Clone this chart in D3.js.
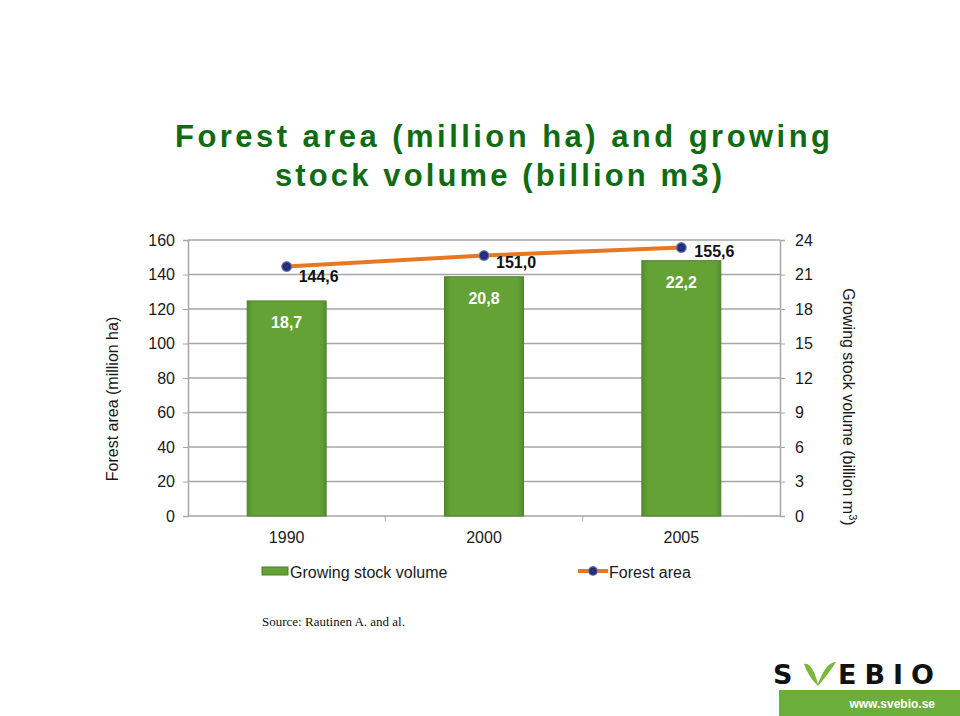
<!DOCTYPE html>
<html>
<head>
<meta charset="utf-8">
<script src="https://cdn.jsdelivr.net/npm/d3@7"></script>
<style>
  body { margin: 0; background: #fff; }
  svg { display: block; font-family: "Liberation Sans", Arial, sans-serif; }
</style>
</head>
<body>
<svg id="chart" width="960" height="716"></svg>
<script>
// chart data
const years = ['1990', '2000', '2005'];
const stockVolume = [18.7, 20.8, 22.2];     // billion m3 (right axis)
const forestArea = [144.6, 151.0, 155.6];   // million ha (left axis)
const leftTicks = [0, 20, 40, 60, 80, 100, 120, 140, 160];
const rightTicks = [0, 3, 6, 9, 12, 15, 18, 21, 24];

const fmt = v => d3.format('.1f')(v).replace('.', ',');

const svg = d3.select('#chart');
const x0 = 188, x1 = 780, yTop = 240, yBot = 516;

const x = d3.scaleBand().domain(years).range([x0, x1])
  .paddingInner(0.6).paddingOuter(0.3);
const yL = d3.scaleLinear().domain([0, 160]).range([yBot, yTop]);
const yR = d3.scaleLinear().domain([0, 24]).range([yBot, yTop]);

const defs = svg.append('defs');
const grad = defs.append('linearGradient').attr('id', 'barGrad')
  .attr('x1', 0).attr('x2', 1).attr('y1', 0).attr('y2', 0);
grad.append('stop').attr('offset', '0%').attr('stop-color', '#548f2c');
grad.append('stop').attr('offset', '8%').attr('stop-color', '#64a236');
grad.append('stop').attr('offset', '92%').attr('stop-color', '#64a236');
grad.append('stop').attr('offset', '100%').attr('stop-color', '#548f2c');
const dotGrad = defs.append('radialGradient').attr('id', 'dotGrad');
dotGrad.append('stop').attr('offset', '0%').attr('stop-color', '#2a3a9a');
dotGrad.append('stop').attr('offset', '60%').attr('stop-color', '#1c2670');
dotGrad.append('stop').attr('offset', '100%').attr('stop-color', '#8a90b8');

// title
const titleLines = [
  { t: 'Forest area (million ha) and growing', x: 175, y: 147, w: 655 },
  { t: 'stock volume (billion m3)', x: 275, y: 186, w: 447 }
];
svg.append('g').selectAll('text').data(titleLines).join('text')
  .attr('x', d => d.x).attr('y', d => d.y)
  .attr('textLength', d => d.w).attr('lengthAdjust', 'spacing')
  .attr('fill', '#106b12').attr('font-weight', 'bold').attr('font-size', 31)
  .text(d => d.t);

// gridlines
svg.append('g').selectAll('line').data(leftTicks.slice(1)).join('line')
  .attr('x1', x0).attr('x2', x1)
  .attr('y1', d => yL(d)).attr('y2', d => yL(d))
  .attr('stroke', '#a6a6a6').attr('stroke-width', 1.5);

// axes
const axL = svg.append('g').attr('transform', `translate(${x0},0)`)
  .call(d3.axisLeft(yL).tickValues(leftTicks).tickSize(5).tickPadding(8));
const axR = svg.append('g').attr('transform', `translate(${x1},0)`)
  .call(d3.axisRight(yR).tickValues(rightTicks).tickSize(5).tickPadding(10));
const axB = svg.append('g').attr('transform', `translate(0,${yBot})`)
  .call(d3.axisBottom(x).tickSize(0).tickPadding(16));
[axL, axR, axB].forEach(g => {
  g.selectAll('path').attr('stroke', '#a6a6a6').attr('stroke-width', 1.5);
  g.selectAll('line').attr('stroke', '#a6a6a6');
  g.selectAll('text').attr('font-size', 16).attr('fill', '#1a1a1a')
    .attr('font-family', '"Liberation Sans", Arial, sans-serif');
});
axB.select('path').attr('d', `M${x0},0H${x1}`);
// category boundary ticks
axB.selectAll('.sep').data(years.slice(1)).join('line')
  .attr('x1', d => x(d) - x.step() * x.paddingInner() / 2)
  .attr('x2', d => x(d) - x.step() * x.paddingInner() / 2)
  .attr('y1', 0).attr('y2', 5).attr('stroke', '#a6a6a6');

// bars
svg.append('g').selectAll('rect').data(stockVolume).join('rect')
  .attr('x', (d, i) => x(years[i]))
  .attr('y', d => yR(d))
  .attr('width', x.bandwidth())
  .attr('height', d => yBot - yR(d))
  .attr('fill', 'url(#barGrad)')
  .attr('stroke', '#4c7f2a').attr('stroke-width', 1);
svg.append('g').selectAll('text').data(stockVolume).join('text')
  .attr('x', (d, i) => x(years[i]) + x.bandwidth() / 2)
  .attr('y', d => yR(d) + 27)
  .attr('text-anchor', 'middle').attr('fill', '#fff')
  .attr('font-weight', 'bold').attr('font-size', 16)
  .text(d => fmt(d));

// line
const cx = (d, i) => x(years[i]) + x.bandwidth() / 2;
svg.append('path').datum(forestArea)
  .attr('d', d3.line().x(cx).y(d => yL(d)))
  .attr('fill', 'none').attr('stroke', '#e8771f').attr('stroke-width', 4);
svg.append('g').selectAll('circle').data(forestArea).join('circle')
  .attr('cx', cx).attr('cy', d => yL(d)).attr('r', 5.5)
  .attr('fill', 'url(#dotGrad)');
const lblOff = [[12, 15], [12, 12], [13, 9]];
svg.append('g').selectAll('text').data(forestArea).join('text')
  .attr('x', (d, i) => cx(d, i) + lblOff[i][0])
  .attr('y', (d, i) => yL(d) + lblOff[i][1])
  .attr('fill', '#111').attr('font-weight', 'bold').attr('font-size', 16)
  .text(d => fmt(d));

// axis titles
svg.append('text').attr('transform', 'translate(118,399) rotate(-90)')
  .attr('text-anchor', 'middle').attr('font-size', 16).attr('fill', '#1a1a1a')
  .text('Forest area (million ha)');
const rt = svg.append('text').attr('transform', 'translate(843,407) rotate(90)')
  .attr('text-anchor', 'middle').attr('font-size', 16).attr('fill', '#1a1a1a');
rt.append('tspan').text('Growing stock volume (billion m');
rt.append('tspan').attr('font-size', 11).attr('dy', -6).text('3');
rt.append('tspan').attr('dy', 6).text(')');

// legend
const lg = svg.append('g');
lg.append('rect').attr('x', 262).attr('y', 567).attr('width', 26).attr('height', 8)
  .attr('fill', '#64a236').attr('stroke', '#4c7f2a');
lg.append('text').attr('x', 290).attr('y', 578).attr('font-size', 16).attr('fill', '#1a1a1a')
  .text('Growing stock volume');
lg.append('line').attr('x1', 578).attr('x2', 608).attr('y1', 571).attr('y2', 571)
  .attr('stroke', '#e8771f').attr('stroke-width', 4);
lg.append('circle').attr('cx', 593).attr('cy', 571).attr('r', 5).attr('fill', 'url(#dotGrad)');
lg.append('text').attr('x', 609).attr('y', 578).attr('font-size', 16).attr('fill', '#1a1a1a')
  .text('Forest area');

// source
svg.append('text').attr('x', 262).attr('y', 626)
  .attr('font-family', '"Liberation Serif", "Times New Roman", serif')
  .attr('font-size', 13).attr('fill', '#111').text('Source: Rautinen A. and al.');

// logo
const logo = svg.append('g');
logo.append('rect').attr('x', 779).attr('y', 690).attr('width', 181).attr('height', 26)
  .attr('fill', '#6cae3c');
logo.append('text').attr('x', 935).attr('y', 708).attr('text-anchor', 'end')
  .attr('fill', '#fff').attr('font-weight', 'bold').attr('font-size', 12)
  .attr('font-family', '"Liberation Sans Narrow", "Liberation Sans", sans-serif')
  .text('www.svebio.se');
const lt = logo.append('text').attr('y', 684).attr('font-weight', 'bold')
  .attr('font-size', 27).attr('fill', '#111')
  .attr('font-family', '"DejaVu Sans", sans-serif');
lt.append('tspan').attr('x', 773).text('S');
lt.append('tspan').attr('x', 838).attr('letter-spacing', 8).text('EBIO');
logo.append('path')
  .attr('d', 'M804,664 Q812,662 818,684 Q826,662 836,662 Q830,672 818,686 Q808,676 804,664 Z')
  .attr('fill', '#7ab83a');
</script>
</body>
</html>
